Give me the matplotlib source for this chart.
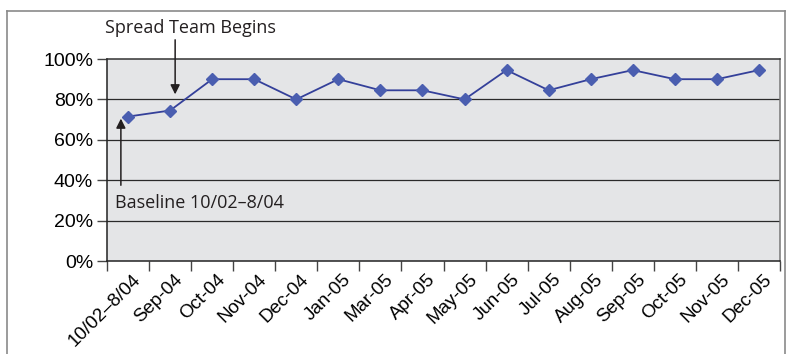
import numpy as np
import matplotlib.pyplot as plt
from matplotlib.lines import Line2D

plt.rcParams['font.family'] = ['Liberation Sans', 'DejaVu Sans']

months = ['10/02\u20138/04', 'Sep-04', 'Oct-04', 'Nov-04', 'Dec-04', 'Jan-05',
          'Mar-05', 'Apr-05', 'May-05', 'Jun-05', 'Jul-05', 'Aug-05',
          'Sep-05', 'Oct-05', 'Nov-05', 'Dec-05']
pct = [71.5, 74.5, 90, 90, 80, 90, 84.5, 84.5, 80, 94.5, 84.5, 90, 94.5, 90, 90, 94.5]

fig = plt.figure(figsize=(7.93, 3.54), dpi=100)

# outer frame (open at the bottom)
fr = dict(color='#8a8a8a', lw=1.2, transform=fig.transFigure)
fig.add_artist(Line2D([7/793, 7/793], [0, 1 - 11/354], **fr))
fig.add_artist(Line2D([7/793, 785/793], [1 - 11/354, 1 - 11/354], **fr))
fig.add_artist(Line2D([785/793, 785/793], [0, 1 - 11/354], **fr))

ax = fig.add_axes([107/793, 1 - 261/354, 673/793, 202/354])
ax.set_facecolor('#e4e5e7')

x = np.arange(len(pct)) + 0.5
ax.plot(x, pct, color='#34409a', lw=1.3, marker='D', ms=6.5,
        mfc='#4a5eb0', mec='#4a5eb0', zorder=3)

ax.set_xlim(0, len(pct))
ax.set_ylim(0, 100)

ax.set_yticks(np.arange(0, 101, 20))
ax.set_yticklabels(['%d%%' % v for v in range(0, 101, 20)], fontsize=14)
ax.set_xticks(np.arange(len(pct) + 1))
ax.set_xticklabels([])
ax.set_xticks(x + 0.1, minor=True)
ax.set_xticklabels(months, minor=True, rotation=45, ha='right',
                   rotation_mode='anchor', fontsize=13.5)
ax.tick_params(axis='x', which='minor', length=0, pad=7)
ax.tick_params(axis='x', which='major', length=7, width=1, color='#444')
ax.tick_params(axis='y', length=7, width=1, color='#444', pad=3)

for v in range(20, 100, 20):
    ax.axhline(v, color='#2a2a2a', lw=0.9, zorder=1)

ax.spines['left'].set_color('#222')
ax.spines['bottom'].set_color('#222')
ax.spines['top'].set_color('#333')
ax.spines['right'].set_color('#777')
for s in ax.spines.values():
    s.set_linewidth(1.1)

ann_font = ['Open Sans', 'DejaVu Sans']
ax.annotate('', xy=(1.62, 82.5), xycoords='data',
            xytext=(1.62, 109.5), textcoords='data', annotation_clip=False,
            arrowprops=dict(arrowstyle='-|>', color='#231f20', lw=1.1,
                            mutation_scale=14, shrinkA=0, shrinkB=0))
ax.text(1.98, 115.5, 'Spread Team Begins', ha='center', va='center',
        fontsize=13, family=ann_font, color='#231f20', clip_on=False)
ax.annotate('', xy=(0.33, 70.5), xycoords='data',
            xytext=(0.33, 37.5), textcoords='data',
            arrowprops=dict(arrowstyle='-|>', color='#231f20', lw=1.1,
                            mutation_scale=14, shrinkA=0, shrinkB=0))
ax.text(0.2, 28.8, 'Baseline 10/02\u20138/04', ha='left', va='center',
        fontsize=13, family=ann_font, color='#231f20')

fig.savefig('out.png', dpi=100)
